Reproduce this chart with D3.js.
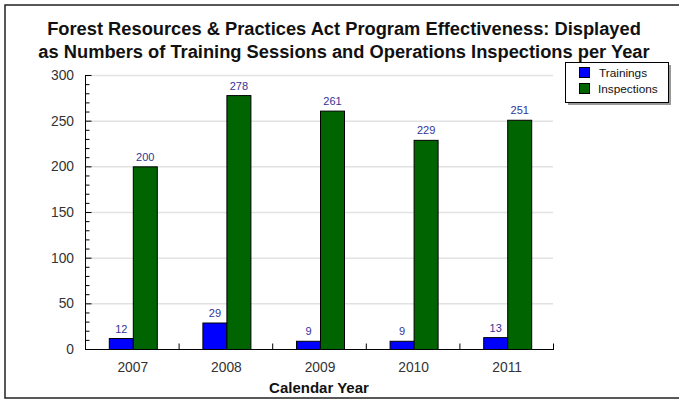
<!DOCTYPE html>
<html><head><meta charset="utf-8">
<script src="https://cdn.jsdelivr.net/npm/d3@7"></script>
<style>body{margin:0;background:#fff}svg{display:block}</style>
</head><body>
<svg id="c" width="679" height="400"></svg>
<script>
const titleLines = ["Forest Resources & Practices Act Program Effectiveness: Displayed",
                    "as Numbers of Training Sessions and Operations Inspections per Year"];
const categories = ["2007","2008","2009","2010","2011"];
const seriesNames = ["Trainings","Inspections"];
const trainings = [12,29,9,9,13];
const inspections = [200,278,261,229,251];
const yTicks = [0,50,100,150,200,250,300];
const xTitle = "Calendar Year";
const colors = ["#0000ff","#006400"];

const svg = d3.select("#c");
const font = "'Liberation Sans', Arial, sans-serif";
const L = 85, R = 553, T = 75, B = 349;

// outer frame
svg.append("rect").attr("x",5).attr("y",5).attr("width",690).attr("height",393)
  .attr("fill","none").attr("stroke","#222").attr("stroke-width",1.5);

// title
titleLines.forEach((t,i)=>{
  svg.append("text").attr("x",344).attr("y",35+i*23).attr("text-anchor","middle")
    .attr("font-family",font).attr("font-weight","bold").attr("font-size",18.3)
    .attr("fill","#111").text(t);
});

const y = d3.scaleLinear().domain([0,300]).range([B,T]);
const x0 = d3.scaleBand().domain(categories).range([L,R]).padding(0);
const x1 = d3.scaleBand().domain(seriesNames).range([-23,25]);

// grid
svg.append("g").selectAll("line").data(yTicks.filter(d=>d>0)).join("line")
  .attr("x1",L).attr("x2",R).attr("y1",d=>y(d)+0.5).attr("y2",d=>y(d)+0.5)
  .attr("stroke","#e2e2e2").attr("stroke-width",1.5);

// y axis
const yAxis = d3.axisRight(y).tickValues(d3.range(0,301,10)).tickSize(4).tickFormat("");
const gy = svg.append("g").attr("transform",`translate(${L+0.5},0)`).call(yAxis);
gy.select(".domain").remove();
gy.selectAll(".tick line").attr("stroke","#000").attr("x2",d=>d%50===0?6:4);
svg.append("line").attr("x1",L+0.5).attr("x2",L+0.5).attr("y1",T).attr("y2",B+0.5).attr("stroke","#000");
svg.append("g").selectAll("text").data(yTicks).join("text")
  .attr("x",74).attr("y",d=>y(d)+5).attr("text-anchor","end")
  .attr("font-family",font).attr("font-size",13.8).attr("fill","#333").text(d=>d);

// bars
const groups = svg.append("g").selectAll("g").data(categories).join("g")
  .attr("transform",d=>`translate(${x0(d)+x0.bandwidth()/2},0)`);
groups.each(function(c,i){
  const vals=[trainings[i],inspections[i]];
  const g=d3.select(this);
  g.selectAll("rect").data(vals).join("rect")
    .attr("x",(v,j)=>x1(seriesNames[j])+0.5).attr("width",x1.bandwidth())
    .attr("y",v=>y(v)+0.5).attr("height",v=>B-y(v))
    .attr("fill",(v,j)=>colors[j]).attr("stroke","#000").attr("stroke-width",1);
  g.selectAll("text").data(vals).join("text")
    .attr("x",(v,j)=>x1(seriesNames[j])+x1.bandwidth()/2+0.5).attr("y",v=>y(v)-5.5)
    .attr("text-anchor","middle").attr("font-family",font).attr("font-size",11)
    .attr("fill","#333399").text(v=>v);
});

// x axis
const xAxis = d3.axisTop(x0).tickSize(6).tickFormat("");
const gx = svg.append("g").attr("transform",`translate(0,${B+0.5})`).call(xAxis);
gx.selectAll(".tick").attr("transform",d=>`translate(${x0(d)+x0.bandwidth()+0.5},0)`);
gx.select(".domain").remove();
gx.selectAll(".tick line").attr("stroke","#000");
svg.append("line").attr("x1",L).attr("x2",R+1).attr("y1",B+0.5).attr("y2",B+0.5).attr("stroke","#000");
svg.append("g").selectAll("text").data(categories).join("text")
  .attr("x",d=>x0(d)+x0.bandwidth()/2+1).attr("y",372).attr("text-anchor","middle")
  .attr("font-family",font).attr("font-size",13.8).attr("fill","#333").text(d=>d);
svg.append("text").attr("x",319).attr("y",393).attr("text-anchor","middle")
  .attr("font-family",font).attr("font-weight","bold").attr("font-size",15)
  .attr("fill","#111").text(xTitle);

// legend
const lg = svg.append("g");
lg.append("rect").attr("x",568).attr("y",65).attr("width",103).attr("height",40).attr("fill","#999");
lg.append("rect").attr("x",565.5).attr("y",62.5).attr("width",103).attr("height",40)
  .attr("fill","#fff").attr("stroke","#000");
seriesNames.forEach((s,i)=>{
  lg.append("rect").attr("x",579.5).attr("y",67.5+i*16).attr("width",10).attr("height",10)
    .attr("fill",colors[i]).attr("stroke","#000");
  lg.append("text").attr("x",i===0?599:598).attr("y",76.5+i*16).attr("font-family",font)
    .attr("font-size",11.8).attr("fill","#111").text(s);
});
</script>
</body></html>
